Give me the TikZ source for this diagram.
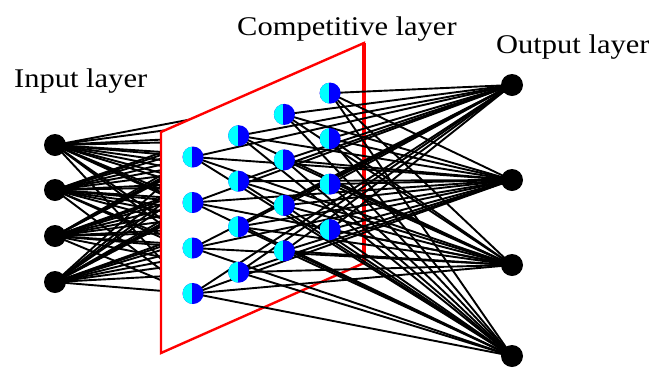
\documentclass[tikz,border=0pt]{standalone}
\usepackage{fontspec}
\setmainfont{Liberation Serif}
\pgfdeclarelayer{bg}
\pgfdeclarelayer{mid}
\pgfdeclarelayer{fg}
\pgfsetlayers{bg,mid,main,fg}
\definecolor{ccyan}{RGB}{0,255,255}
\definecolor{cblue}{RGB}{0,0,255}
\tikzset{
  io/.style={circle, fill=black, minimum size=22pt, inner sep=0pt},
  comp/.style={circle, fill=cblue, minimum size=21pt, inner sep=0pt,
    path picture={\fill[ccyan] (path picture bounding box.south west) rectangle ([xshift=-1pt]path picture bounding box.north);}},
  wire/.style={line width=1.9pt, black},
  plane/.style={draw=red, line width=2.4pt, fill=white, line join=miter},
  lbl/.style={font=\fontsize{27}{30}\selectfont, inner sep=0pt, anchor=base west}
}
\begin{document}
\begin{tikzpicture}[x=1pt,y=-1pt]
\useasboundingbox (0,0) rectangle (649,368);
\begin{pgfonlayer}{fg}
  \foreach \i/\y in {1/145,2/190,3/236,4/282}
    \node[io] (in\i) at (55,\y) {};
  \foreach \i/\y in {1/85,2/180,3/265,4/356}
    \node[io] (out\i) at (512,\y) {};
  \foreach \c in {1,...,4}
    \foreach \r in {1,...,4}
      \node[comp] (c\c\r) at ({193+45.7*(\c-1)},{157-21.3*(\c-1)+45.5*(\r-1)}) {};
\end{pgfonlayer}
\begin{pgfonlayer}{bg}
  \foreach \i in {1,...,4}
    \foreach \c in {1,...,4}
      \foreach \r in {1,...,4}
        \draw[wire] (in\i.center) -- (c\c\r.center);
\end{pgfonlayer}
\begin{pgfonlayer}{mid}
  \path[plane] (161,132) coordinate (p1) -- (364,43) coordinate (p2) -- (364,263) coordinate (p3) -- (161,353) coordinate (p4) -- cycle;
  \draw[red, line width=4.5pt] (p2) -- (p3);
\end{pgfonlayer}
\foreach \c in {1,...,4}
  \foreach \r in {1,...,4}
    \foreach \k in {1,...,4}
      \draw[wire] (c\c\r.center) -- (out\k.center);
\node[lbl] (tin) at (14,87) {\scalebox{1.13}[1]{Input layer}};
\node[lbl] (tcomp) at (237,35) {\scalebox{1.13}[1]{Competitive layer}};
\node[lbl] (tout) at (496,53) {\scalebox{1.13}[1]{Output layer}};
\end{tikzpicture}
\end{document}
